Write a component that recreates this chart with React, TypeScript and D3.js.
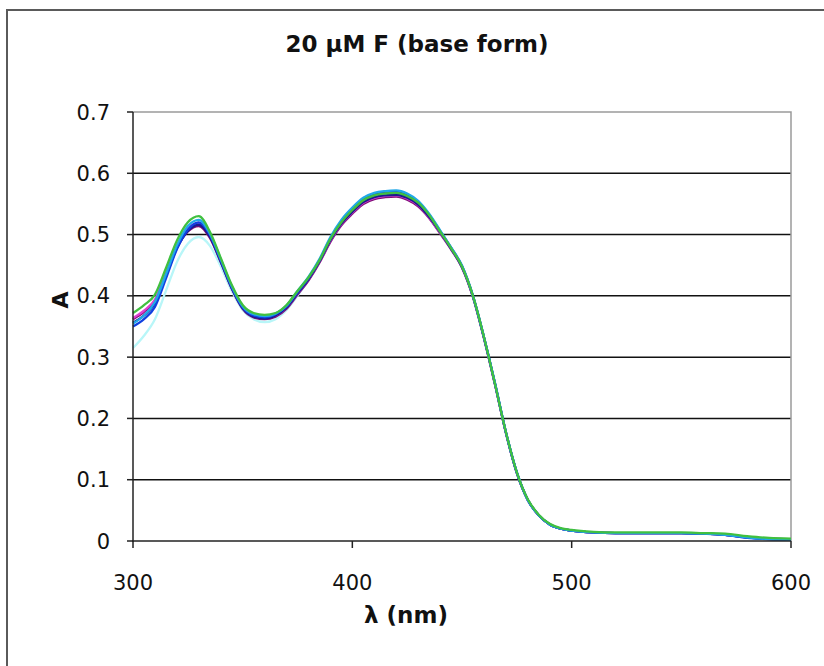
import React from "react";
import * as d3 from "d3";

const wavelengths = [
  300, 305, 310, 315, 320, 325, 330, 335, 340, 345, 350, 355, 360, 365, 370, 375, 380, 385, 390, 395,
  400, 405, 410, 415, 420, 425, 430, 435, 440, 445, 450, 455, 460, 465, 470, 475, 480, 485, 490, 495,
  500, 510, 520, 530, 540, 550, 560, 570, 580, 590, 600,
];

const lightCyan = [
  0.315, 0.335, 0.362, 0.408, 0.455, 0.485, 0.496, 0.482, 0.448, 0.408, 0.377, 0.362, 0.357, 0.362, 0.377, 0.4, 0.426, 0.456, 0.49, 0.518,
  0.538, 0.554, 0.563, 0.566, 0.567, 0.562, 0.55, 0.53, 0.504, 0.477, 0.447, 0.399, 0.332, 0.257, 0.178, 0.112, 0.067, 0.042, 0.027, 0.02,
  0.017, 0.014, 0.013, 0.013, 0.013, 0.013, 0.012, 0.01, 0.006, 0.004, 0.003,
];
const purple = [
  0.362, 0.374, 0.392, 0.434, 0.478, 0.505, 0.514, 0.495, 0.455, 0.412, 0.379, 0.365, 0.362, 0.366, 0.379, 0.402, 0.425, 0.454, 0.488, 0.515,
  0.534, 0.55, 0.558, 0.561, 0.562, 0.557, 0.546, 0.527, 0.502, 0.476, 0.446, 0.398, 0.331, 0.256, 0.177, 0.111, 0.067, 0.042, 0.027, 0.02,
  0.017, 0.014, 0.013, 0.013, 0.013, 0.013, 0.012, 0.01, 0.006, 0.004, 0.003,
];
const magenta = [
  0.364, 0.376, 0.394, 0.437, 0.481, 0.51, 0.519, 0.499, 0.458, 0.414, 0.381, 0.367, 0.364, 0.368, 0.381, 0.404, 0.427, 0.456, 0.49, 0.517,
  0.536, 0.552, 0.56, 0.563, 0.564, 0.559, 0.548, 0.528, 0.503, 0.477, 0.447, 0.399, 0.332, 0.256, 0.177, 0.111, 0.067, 0.042, 0.027, 0.02,
  0.017, 0.014, 0.013, 0.013, 0.013, 0.013, 0.012, 0.01, 0.006, 0.004, 0.003,
];
const darkBlue = [
  0.356, 0.368, 0.388, 0.432, 0.478, 0.506, 0.516, 0.497, 0.456, 0.413, 0.38, 0.366, 0.363, 0.368, 0.381, 0.404, 0.427, 0.456, 0.491, 0.518,
  0.537, 0.553, 0.561, 0.564, 0.565, 0.56, 0.549, 0.529, 0.504, 0.477, 0.447, 0.399, 0.332, 0.257, 0.177, 0.111, 0.067, 0.042, 0.027, 0.02,
  0.017, 0.014, 0.013, 0.013, 0.013, 0.013, 0.012, 0.01, 0.006, 0.003, 0.002,
];
const blue = [
  0.35, 0.362, 0.382, 0.428, 0.476, 0.508, 0.52, 0.5, 0.458, 0.414, 0.381, 0.368, 0.365, 0.37, 0.383, 0.406, 0.429, 0.458, 0.494, 0.522,
  0.542, 0.558, 0.566, 0.569, 0.57, 0.565, 0.553, 0.533, 0.506, 0.479, 0.449, 0.4, 0.333, 0.258, 0.178, 0.112, 0.067, 0.042, 0.027, 0.02,
  0.017, 0.014, 0.013, 0.013, 0.013, 0.013, 0.012, 0.01, 0.005, 0.003, 0.002,
];
const sky = [
  0.355, 0.368, 0.39, 0.435, 0.482, 0.514, 0.524, 0.502, 0.46, 0.416, 0.383, 0.37, 0.367, 0.371, 0.384, 0.408, 0.431, 0.46, 0.496, 0.524,
  0.544, 0.56, 0.568, 0.571, 0.572, 0.567, 0.555, 0.534, 0.507, 0.479, 0.449, 0.4, 0.333, 0.258, 0.178, 0.112, 0.067, 0.042, 0.027, 0.02,
  0.017, 0.014, 0.013, 0.013, 0.013, 0.013, 0.012, 0.01, 0.006, 0.003, 0.002,
];
const green = [
  0.372, 0.385, 0.402, 0.445, 0.49, 0.52, 0.53, 0.505, 0.462, 0.418, 0.385, 0.372, 0.369, 0.372, 0.385, 0.408, 0.43, 0.458, 0.493, 0.52,
  0.54, 0.556, 0.564, 0.567, 0.568, 0.563, 0.552, 0.532, 0.505, 0.478, 0.448, 0.4, 0.333, 0.257, 0.178, 0.112, 0.068, 0.043, 0.028, 0.021,
  0.018, 0.015, 0.014, 0.014, 0.014, 0.014, 0.013, 0.012, 0.008, 0.005, 0.004,
];

const seriesValues = [lightCyan, purple, magenta, darkBlue, blue, sky, green];
const seriesColors = ["#b8f6f8", "#80107a", "#e040d0", "#1a1a90", "#1040e0", "#20a8e8", "#40c040"];

const xTicks = [300, 400, 500, 600];
const yTicks = [0, 0.1, 0.2, 0.3, 0.4, 0.5, 0.6, 0.7];

const titleText = "20 µM F (base form)";
const xLabel = "λ (nm)";
const yLabel = "A";

export default function App() {
  const W = 824;
  const H = 666;
  const left = 133;
  const right = 791;
  const top = 112;
  const bottom = 541;
  const x = d3.scaleLinear().domain([300, 600]).range([left, right]);
  const y = d3.scaleLinear().domain([0, 0.7]).range([bottom, top]);
  const line = d3
    .line<number>()
    .x((_, i) => x(wavelengths[i]))
    .y((v) => y(v))
    .curve(d3.curveMonotoneX);
  const font = "'DejaVu Sans', Verdana, sans-serif";

  return (
    <svg
      width={W}
      height={H}
      style={{ position: "absolute", left: 0, top: 0, display: "block", background: "#fff" }}
    >
      <rect x={0} y={0} width={W} height={H} fill="#fff" />
      <rect x={7} y={10} width={W + 20} height={H + 20} fill="none" stroke="#5a5a5a" strokeWidth={2} />

      {yTicks
        .filter((t) => t > 0 && t < 0.7)
        .map((t) => (
          <line key={"g" + t} x1={left} x2={right} y1={y(t)} y2={y(t)} stroke="#111" strokeWidth={1.5} />
        ))}
      <path d={`M${left},${top}H${right}V${bottom}`} fill="none" stroke="#9a9a9a" strokeWidth={1.5} />

      {seriesValues.map((vals, i) => (
        <path key={"s" + i} d={line(vals) || ""} fill="none" stroke={seriesColors[i]} strokeWidth={2.3} strokeLinejoin="round" />
      ))}

      <line x1={left} x2={left} y1={top} y2={bottom + 1} stroke="#222" strokeWidth={1.5} />
      <line x1={left - 1} x2={right} y1={bottom} y2={bottom} stroke="#222" strokeWidth={1.5} />
      {yTicks.map((t) => (
        <g key={"yt" + t}>
          <line x1={left - 6} x2={left} y1={y(t)} y2={y(t)} stroke="#222" strokeWidth={1.5} />
          <text x={110} y={y(t)} dy="0.36em" textAnchor="end" fontFamily={font} fontSize={21} fill="#111">
            {t === 0 ? "0" : t.toFixed(1)}
          </text>
        </g>
      ))}
      {xTicks.map((t) => (
        <g key={"xt" + t}>
          <line x1={x(t)} x2={x(t)} y1={bottom} y2={bottom + 7} stroke="#222" strokeWidth={1.5} />
          <text x={x(t)} y={590} textAnchor="middle" fontFamily={font} fontSize={21} fill="#111">
            {t}
          </text>
        </g>
      ))}

      <text x={417} y={52} textAnchor="middle" fontFamily={font} fontWeight="bold" fontSize={23} fill="#111">
        {titleText}
      </text>
      <text x={406} y={623} textAnchor="middle" fontFamily={font} fontWeight="bold" fontSize={23} fill="#111">
        {xLabel}
      </text>
      <text
        transform="translate(68,300) rotate(-90)"
        textAnchor="middle"
        fontFamily={font}
        fontWeight="bold"
        fontSize={22}
        fill="#111"
      >
        {yLabel}
      </text>
    </svg>
  );
}
